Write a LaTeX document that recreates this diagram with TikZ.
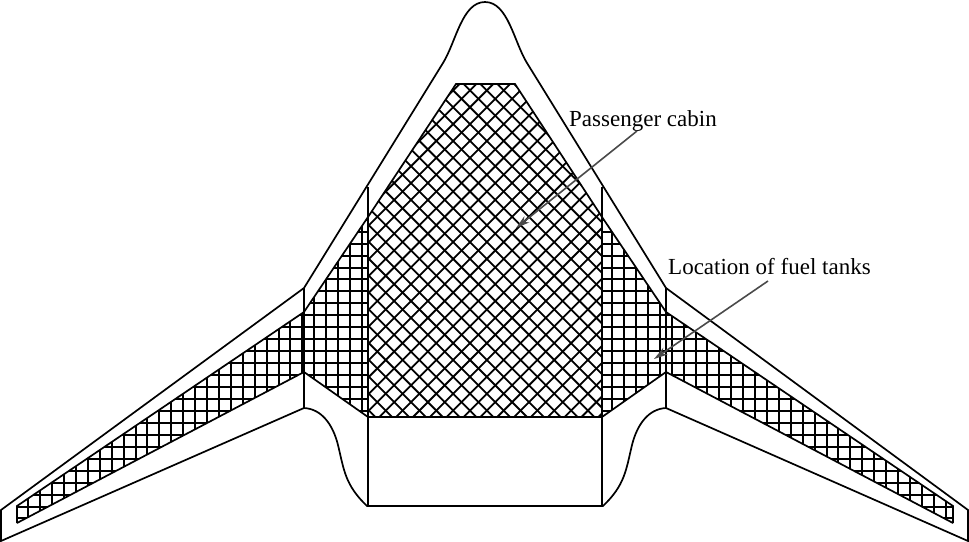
\documentclass[tikz,border=0pt]{standalone}
\usepackage{fontspec}
\setmainfont{Liberation Serif}
\usepackage{xcolor}
\usetikzlibrary{positioning, arrows.meta}
\definecolor{leadergray}{HTML}{4A4A4A}
\tikzset{
  outline/.style={line width=1.7pt, line join=miter},
  hatchline/.style={line width=1.8pt},
  leader/.style={leadergray, line width=1.6pt, -{Stealth[length=14pt, width=8pt]}},
  callout/.style={anchor=base west, inner sep=0pt, font=\fontsize{23}{27}\selectfont}
}
\begin{document}
\begin{tikzpicture}[x=1pt, y=-1pt]
  \useasboundingbox (0,0) rectangle (969,541);
  % fuel tanks (square grid)
  \begin{scope}
    \clip (17,506) -- (304,312) -- (368,217) -- (368,417) -- (304,372) -- (17,523) -- cycle
          (953,506) -- (666,312) -- (602,217) -- (602,417) -- (666,372) -- (953,523) -- cycle;
    \foreach \k in {0,...,81} {
      \draw[hatchline] ({round(4.5+11.914*\k)},200) -- ({round(4.5+11.914*\k)},530);
    }
    \foreach \k in {0,...,27} {
      \draw[hatchline] (0,{round(207.8+11.95*\k)}) -- (969,{round(207.8+11.95*\k)});
    }
  \end{scope}
  % passenger cabin (diagonal grid)
  \begin{scope}
    \clip (456,84) -- (515,84) -- (602,217) -- (602,417) -- (368,417) -- (368,217) -- cycle;
    \foreach \k in {-30,...,30} {
      \draw[hatchline] ({436.3+16.85*\k-350},{360-350}) -- ({436.3+16.85*\k+350},{360+350});
      \draw[hatchline] ({436.3+16.85*\k-350},{360+350}) -- ({436.3+16.85*\k+350},{360-350});
    }
  \end{scope}
  % tank edges
  \draw[outline] (17,523) -- (17,506) -- (304,312) -- (368,217);
  \draw[outline] (17,523) -- (304,372) -- (368,417);
  \draw[outline] (953,523) -- (953,506) -- (666,312) -- (602,217);
  \draw[outline] (953,523) -- (666,372) -- (602,417);
  % cabin edges
  \draw[outline] (368,217) -- (456,84) -- (515,84) -- (602,217);
  \draw[outline] (368,417) -- (602,417);
  % body and wings
  \draw[outline] (1,541) -- (1,510) -- (304,288) -- (443,63)
    .. controls (456,42) and (462,2) .. (485,2)
    .. controls (508,2) and (514,42) .. (527,63)
    -- (666,288) -- (968,510) -- (968,541) -- (666,408)
    .. controls (648,409) and (637,425) .. (632,445)
    .. controls (626,470) and (625,485) .. (603,506)
    -- (367,506)
    .. controls (345,485) and (344,470) .. (338,445)
    .. controls (333,425) and (322,409) .. (304,408)
    -- cycle;
  \draw[outline] (304,288) -- (304,408);
  \draw[outline] (666,288) -- (666,408);
  \draw[outline] (368,187) -- (368,506);
  \draw[outline] (602,187) -- (602,506);
  % labels
  \node[callout] (cabin-label) at (569,126) {Passenger cabin};
  \node[callout] (tanks-label) at (668,274) {Location of fuel tanks};
  \coordinate (cabin-from) at (637,131);
  \coordinate (cabin-tip) at (516,228);
  \coordinate (tanks-from) at (768,281);
  \coordinate (tanks-tip) at (654,359);
  \draw[leader] (cabin-from) -- (cabin-tip);
  \draw[leader] (tanks-from) -- (tanks-tip);
\end{tikzpicture}
\end{document}
